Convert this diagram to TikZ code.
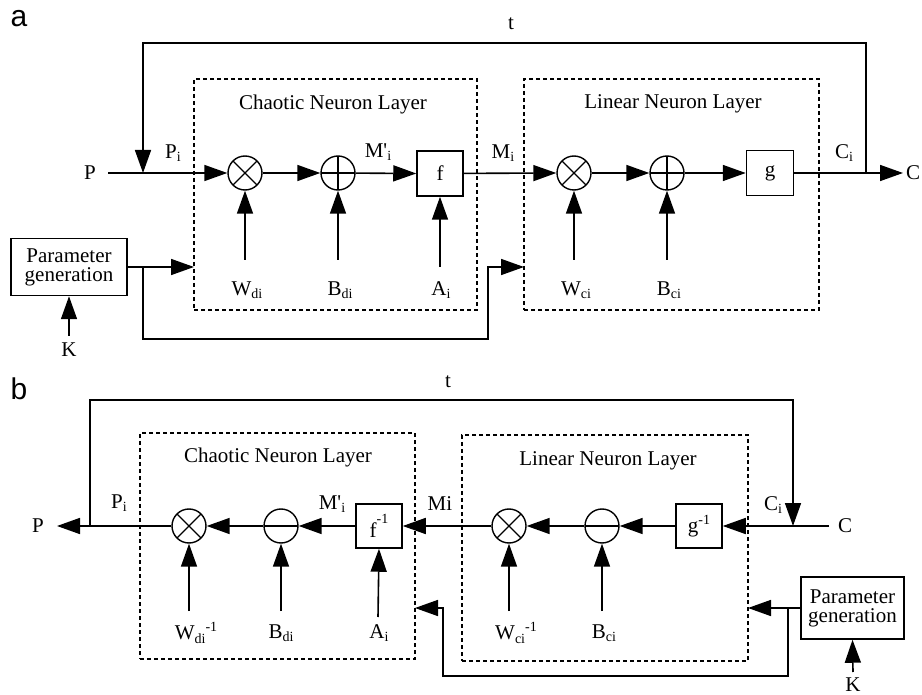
\documentclass[tikz,border=0pt]{standalone}
\usepackage{fontspec}
\setmainfont{Liberation Serif}
\newfontfamily\labfont{Liberation Sans}
\usetikzlibrary{arrows.meta}
\newcommand{\lowtxt}[1]{\raisebox{-0.35ex}{\fontsize{14}{14}\selectfont #1}}
\newcommand{\uptxt}[1]{\raisebox{0.85ex}{\fontsize{14}{14}\selectfont #1}}
\newcommand{\prm}{\textquotesingle}
\begin{document}
\begin{tikzpicture}[x=1pt,y=-1pt,
  every node/.style={font=\fontsize{21}{19}\selectfont, inner sep=0pt},
  conn/.style={line width=1.6pt},
  arr/.style={conn, -{Triangle[length=23pt,width=16pt]}},
  op/.style={circle, draw, line width=1.4pt, minimum size=34pt},
  mult/.style={op, path picture={\draw[line width=1.3pt]
      (path picture bounding box.center) +(45:17pt) -- +(225:17pt)
      (path picture bounding box.center) +(135:17pt) -- +(-45:17pt);}},
  plusop/.style={op, path picture={\draw[line width=1.3pt]
      (path picture bounding box.center) +(0:17pt) -- +(180:17pt)
      (path picture bounding box.center) +(90:17pt) -- +(270:17pt);}},
  minusop/.style={op, path picture={\draw[line width=1.3pt]
      (path picture bounding box.center) +(0:17pt) -- +(180:17pt);}},
  fbox/.style={draw, line width=1.5pt, minimum width=46pt, minimum height=45pt},
  pbox/.style={draw, line width=1.5pt, align=center},
  layer/.style={draw, dash pattern=on 4pt off 3pt, line width=1.3pt},
  panel/.style={font=\labfont\fontsize{30}{30}\selectfont}
]
\useasboundingbox (0,0) rectangle (922,695);

%% ================= part a =================
\node[panel] (alab) at (19,19) {a};
\node[layer, minimum width=283pt, minimum height=231pt] (cla) at (335.5,194.5) {};
\node[layer, minimum width=295pt, minimum height=231pt] (lla) at (671.5,194.5) {};
\node (clat) at (333,104) {Chaotic Neuron Layer};
\node (llat) at (673,104) {Linear Neuron Layer};

\node (Pa) at (90,173) {P};
\coordinate (Pas) at (108,173);
\node[mult] (mula) at (245,173) {};
\node[plusop] (plusa) at (338,173) {};
\node[fbox] (fa) at (440,173.5) {f};
\node[mult] (mulb) at (574,173) {};
\node[plusop] (plusb) at (667,173) {};
\node[fbox, minimum width=47pt] (ga) at (770,173) {g};
\coordinate (Cat) at (903,173);
\node[anchor=west] (Ca) at (906,173) {C};

\node (Pia) at (173,153) {P\lowtxt{i}};
\node (Mpa) at (378,152) {M\prm\lowtxt{i}};
\node (Mia) at (503,153) {M\lowtxt{i}};
\node (Cia) at (844,153) {C\lowtxt{i}};
\node (ta) at (511,24) {t};

\draw[arr] (Pas) -- (mula.west);
\draw[arr] (mula) -- (plusa.west);
\draw[arr] (plusa) -- (fa.west);
\draw[arr] (fa) -- (mulb.west);
\draw[arr] (mulb) -- (plusb.west);
\draw[arr] (plusb) -- (ga.west);
\draw[arr] (ga) -- (Cat);

% feedback t
\coordinate (ja) at (866,173);
\coordinate (ja1) at (866,43);
\coordinate (ka1) at (143,43);
\coordinate (ka) at (143,173);
\draw[arr] (ja) -- (ja1) -- (ka1) -- (ka);

% vertical inputs
\node (Wda) at (247,290) {W\lowtxt{di}};
\node (Bda) at (340,290) {B\lowtxt{di}};
\node (Aia) at (441,290) {A\lowtxt{i}};
\node (Wca) at (576,290) {W\lowtxt{ci}};
\node (Bca) at (669,290) {B\lowtxt{ci}};
\coordinate (wda0) at (245,260);
\coordinate (bda0) at (338,260);
\coordinate (aia0) at (440,267);
\coordinate (wca0) at (574,260);
\coordinate (bca0) at (667,260);
\draw[arr] (wda0) -- (mula.south);
\draw[arr] (bda0) -- (plusa.south);
\draw[arr] (aia0) -- (fa.south);
\draw[arr] (wca0) -- (mulb.south);
\draw[arr] (bca0) -- (plusb.south);

% parameter generation a
\node[pbox, minimum width=116pt, minimum height=57pt] (pga) at (69,267) {Parameter\\generation};
\node (Ka) at (69,350) {K};
\coordinate (ka0) at (69,336);
\draw[arr] (ka0) -- (pga.south);
\coordinate (cla_w) at (194,267);
\draw[arr] (pga.east) -- (cla_w);
\coordinate (bra) at (143,267);
\coordinate (bra2) at (143,339);
\coordinate (bra3) at (488,339);
\coordinate (bra4) at (488,267);
\coordinate (lla_w) at (524,267);
\draw[arr] (bra) -- (bra2) -- (bra3) -- (bra4) -- (lla_w);

%% ================= part b =================
\node[panel] (blab) at (19,389) {b};
\node[layer, minimum width=275pt, minimum height=226pt] (clb) at (277.5,546) {};
\node[layer, minimum width=286pt, minimum height=226pt] (llb) at (605,548) {};
\node (clbt) at (278,457) {Chaotic Neuron Layer};
\node (llbt) at (608,461) {Linear Neuron Layer};

\node (Pb) at (38,526) {P};
\coordinate (Pbt) at (57,526);
\node[mult] (mulc) at (189,526) {};
\node[minusop] (minc) at (281,526) {};
\node[fbox, minimum height=44pt] (finv) at (379,526) {\raisebox{-0.6ex}{f}\uptxt{-1}};
\node[mult] (muld) at (509,526) {};
\node[minusop] (mind) at (602,526) {};
\node[fbox, minimum height=44pt] (ginv) at (699,526) {g\uptxt{-1}};
\node (Cb) at (845,526) {C};
\coordinate (Cbs) at (829,526);

\node (Pib) at (119,503) {P\lowtxt{i}};
\node (Mpb) at (332,504) {M\prm\lowtxt{i}};
\node (Mib) at (440,504) {Mi};
\node (Cib) at (773,505) {C\lowtxt{i}};
\node (tb) at (448,382) {t};

\draw[arr] (Cbs) -- (ginv.east);
\draw[arr] (ginv) -- (mind.east);
\draw[arr] (mind) -- (muld.east);
\draw[arr] (muld) -- (finv.east);
\draw[arr] (finv) -- (minc.east);
\draw[arr] (minc) -- (mulc.east);
\draw[arr] (mulc) -- (Pbt);

% feedback t
\coordinate (jb) at (90,526);
\coordinate (jb1) at (90,400);
\coordinate (kb1) at (793,400);
\coordinate (kb) at (793,526);
\draw[arr] (jb) -- (jb1) -- (kb1) -- (kb);

% vertical inputs
\node (Wdb) at (196,633) {W\lowtxt{di}\uptxt{-1}};
\node (Bdb) at (281,633) {B\lowtxt{di}};
\node (Aib) at (379,633) {A\lowtxt{i}};
\node (Wcb) at (516,633) {W\lowtxt{ci}\uptxt{-1}};
\node (Bcb) at (604,633) {B\lowtxt{ci}};
\coordinate (wdb0) at (189,611);
\coordinate (bdb0) at (281,611);
\coordinate (aib0) at (378,617);
\coordinate (wcb0) at (509,611);
\coordinate (bcb0) at (602,611);
\draw[arr] (wdb0) -- (mulc.south);
\draw[arr] (bdb0) -- (minc.south);
\draw[arr] (aib0) -- (finv.south);
\draw[arr] (wcb0) -- (muld.south);
\draw[arr] (bcb0) -- (mind.south);

% parameter generation b
\node[pbox, minimum width=103pt, minimum height=62pt] (pgb) at (852.5,608) {Parameter\\generation};
\node (Kb) at (853,685) {K};
\coordinate (kb0) at (853,672);
\draw[arr] (kb0) -- (pgb.south);
\coordinate (llb_e) at (748,608);
\draw[arr] (pgb.west) -- (llb_e);
\coordinate (brb) at (788,608);
\coordinate (brb2) at (788,676);
\coordinate (brb3) at (443,676);
\coordinate (brb4) at (443,608);
\coordinate (clb_e) at (415,608);
\draw[arr] (brb) -- (brb2) -- (brb3) -- (brb4) -- (clb_e);
\end{tikzpicture}
\end{document}
